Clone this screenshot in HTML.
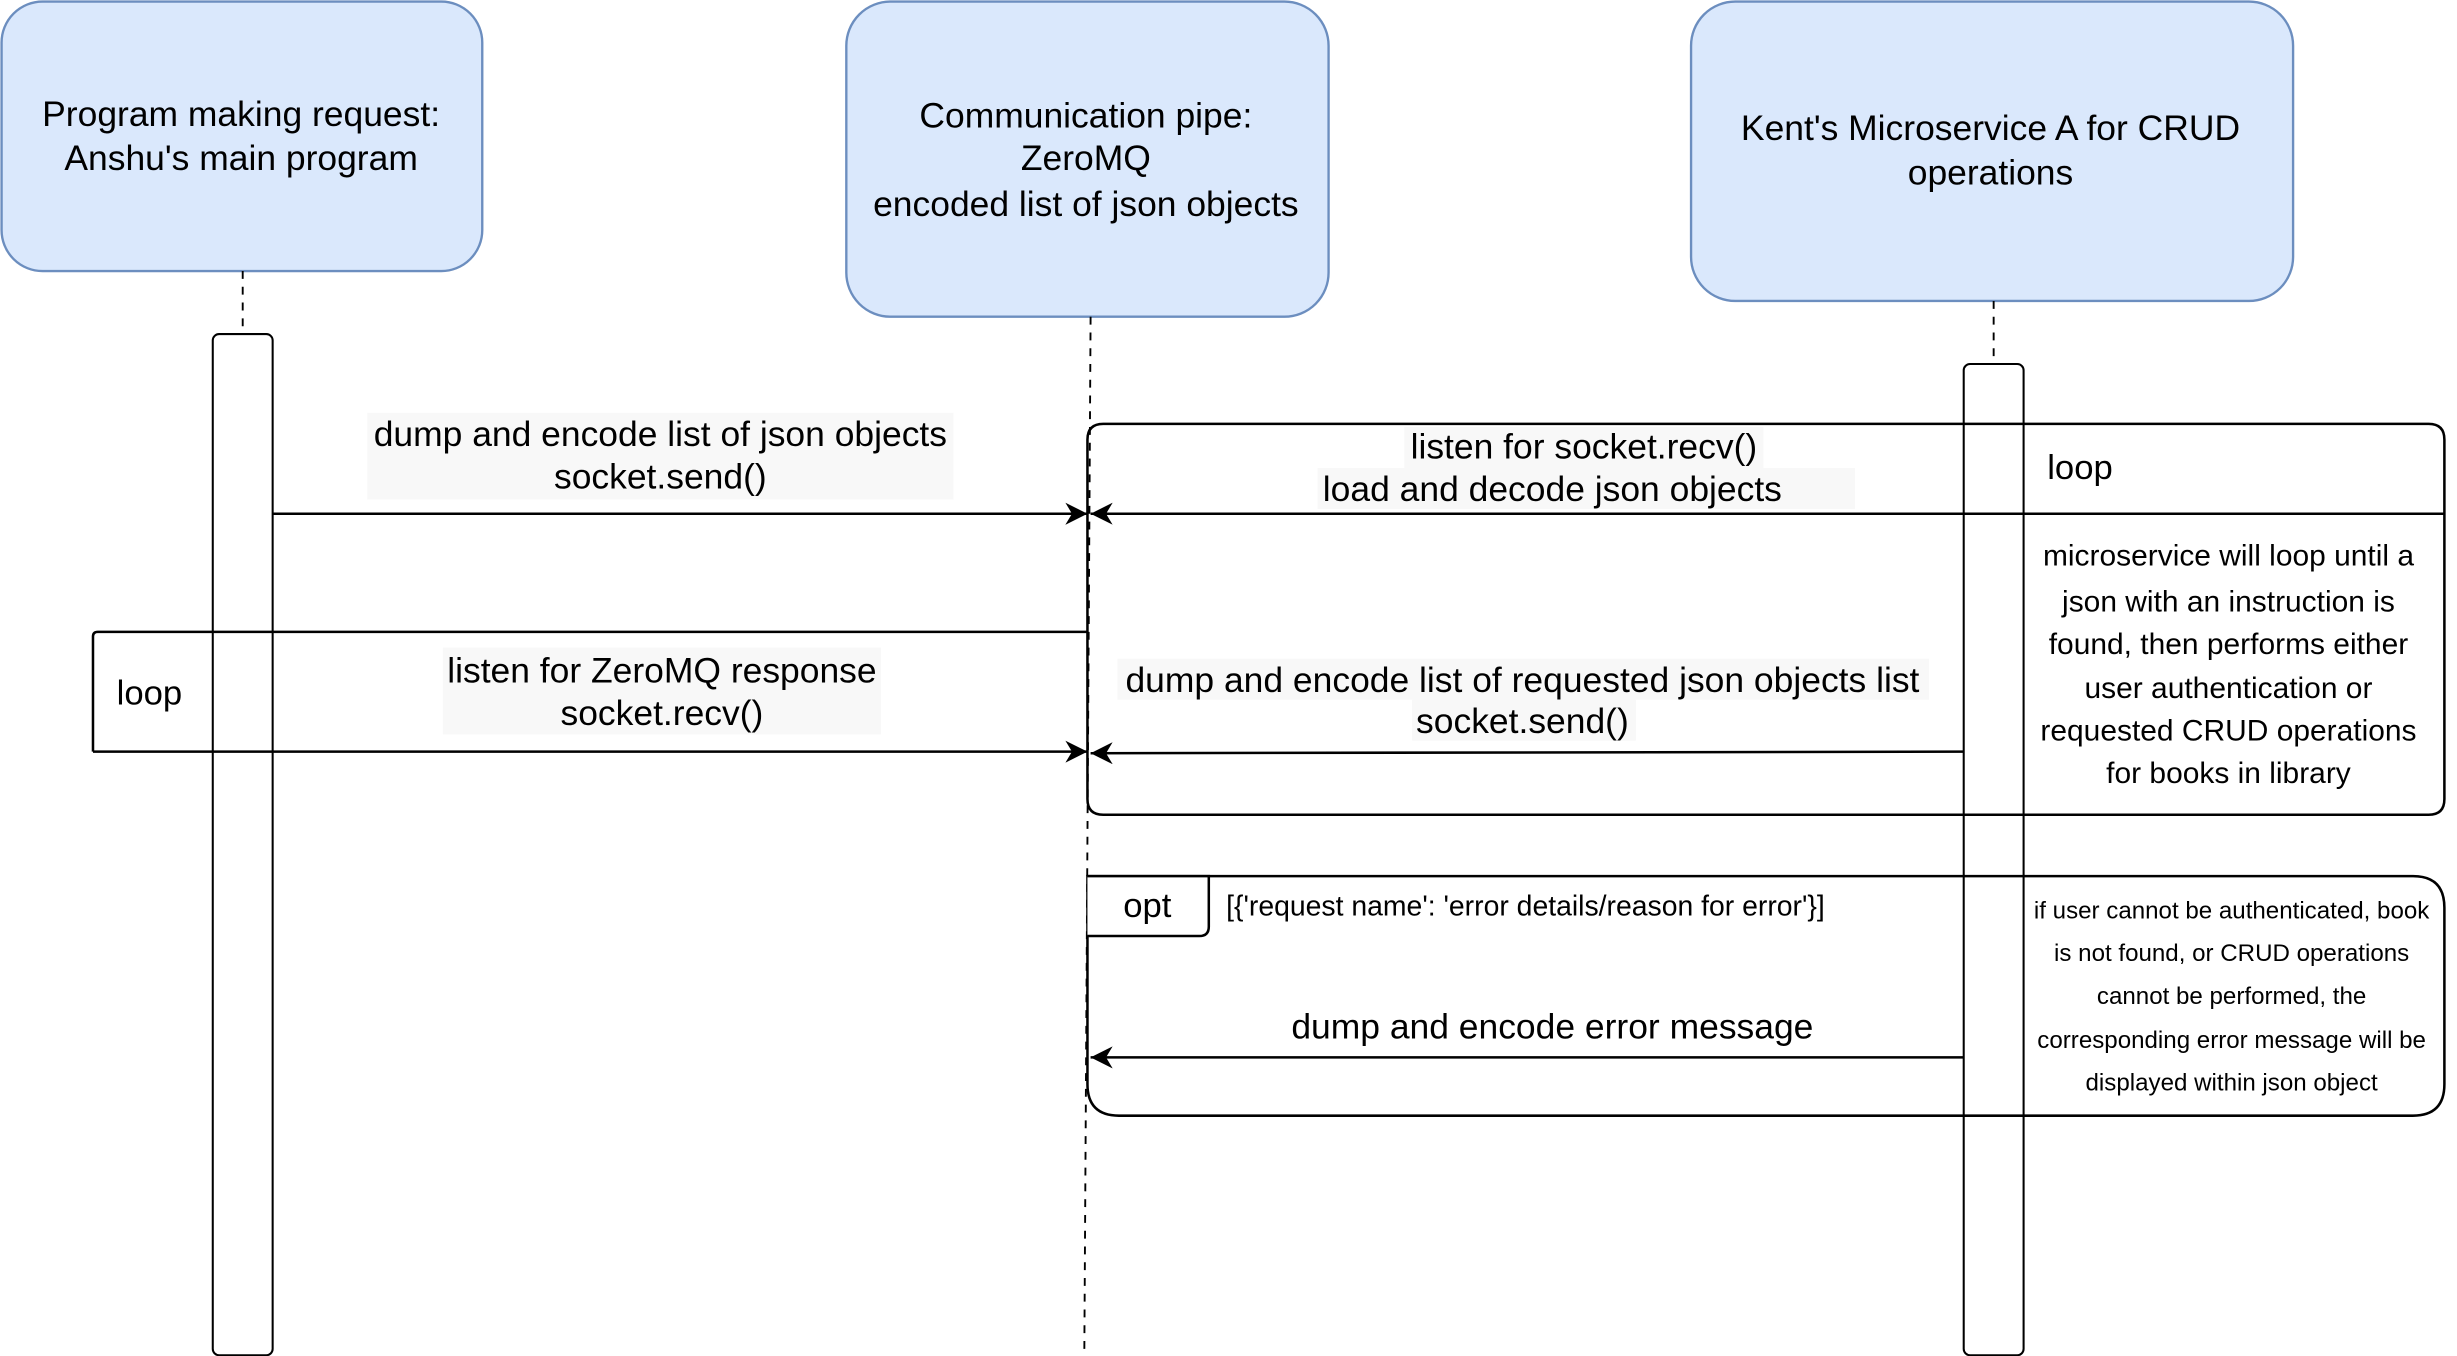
<!DOCTYPE html>
<html><head><meta charset="utf-8"><style>
html,body{margin:0;padding:0;background:#fff;}
svg{display:block;}
text{font-family:"Liberation Sans",Arial,sans-serif;fill:#000;}
</style></head><body>
<svg width="2457" height="1356" viewBox="0 0 1559 860.5" preserveAspectRatio="none" xmlns="http://www.w3.org/2000/svg">
<defs>
<marker id="ahb" viewBox="0 0 10 10" refX="10" refY="5" markerWidth="14" markerHeight="14" markerUnits="userSpaceOnUse" orient="auto">
<path d="M0,0 L10,5 L0,10 L3,5 Z" fill="#000"/>
</marker>
</defs>
<rect x="1" y="1" width="305" height="171" rx="26" fill="#dae8fc" stroke="#6c8ebf" stroke-width="1.5"/>
<rect x="537" y="1" width="306" height="200" rx="28" fill="#dae8fc" stroke="#6c8ebf" stroke-width="1.5"/>
<rect x="1073" y="1" width="382" height="190" rx="28" fill="#dae8fc" stroke="#6c8ebf" stroke-width="1.5"/>
<g font-size="22.5" text-anchor="middle">
<text x="153" y="80">Program making request:</text>
<text x="153" y="108">Anshu's main program</text>
<text x="689" y="81">Communication pipe:</text>
<text x="689" y="108">ZeroMQ</text>
<text x="689" y="137">encoded list of json objects</text>
<text x="1263" y="89">Kent's Microservice A for CRUD</text>
<text x="1263" y="117">operations</text>
</g>
<g stroke="#000" stroke-width="1.2" stroke-dasharray="5,5" fill="none">
<line x1="154" y1="172" x2="154" y2="212"/>
<line x1="692" y1="201" x2="688" y2="861"/>
<line x1="1265" y1="191" x2="1265" y2="231"/>
</g>
<rect x="135" y="212" width="38" height="648" rx="4" fill="#fff" stroke="#000" stroke-width="1.3"/>
<rect x="1246" y="231" width="38" height="629" rx="4" fill="#fff" stroke="#000" stroke-width="1.3"/>
<path d="M700,269 H1541 Q1551,269 1551,279 V507 Q1551,517 1541,517 H700 Q690,517 690,507 V279 Q690,269 700,269 Z" fill="none" stroke="#000" stroke-width="1.6"/>
<line x1="1284" y1="326" x2="1551" y2="326" stroke="#000" stroke-width="1.6"/>
<text x="1299" y="304" font-size="22">loop</text>
<g font-size="19" text-anchor="middle">
<text x="1414" y="359">microservice will loop until a</text>
<text x="1414" y="388">json with an instruction is</text>
<text x="1414" y="415">found, then performs either</text>
<text x="1414" y="443">user authentication or</text>
<text x="1414" y="470">requested CRUD operations</text>
<text x="1414" y="497">for books in library</text>
</g>
<path d="M700,556 H1531 Q1551,556 1551,576 V688 Q1551,708 1531,708 H710 Q690,708 690,688 V556 Z" fill="none" stroke="#000" stroke-width="1.6"/>
<path d="M690,556 H767 V588 Q767,594 761,594 H690" fill="#fff" stroke="#000" stroke-width="1.6"/>
<text x="728" y="582" font-size="22" text-anchor="middle">opt</text>
<text x="778" y="581" font-size="18">[{'request name': 'error details/reason for error'}]</text>
<g font-size="15.3" text-anchor="middle">
<text x="1416" y="583">if user cannot be authenticated, book</text>
<text x="1416" y="610">is not found, or CRUD operations</text>
<text x="1416" y="637">cannot be performed, the</text>
<text x="1416" y="665">corresponding error message will be</text>
<text x="1416" y="692">displayed within json object</text>
</g>
<path d="M690,401 H62 Q59,401 59,404 V477" fill="none" stroke="#000" stroke-width="1.6"/>
<text x="74" y="447" font-size="22">loop</text>
<g fill="#f8f8f8">
<rect x="233" y="262" width="372" height="55"/>
<rect x="891" y="271" width="228" height="26"/>
<rect x="836" y="297" width="341" height="26"/>
<rect x="281" y="411" width="278" height="55"/>
<rect x="709" y="418" width="515" height="26"/>
<rect x="896" y="444" width="142" height="26"/>
</g>
<g font-size="22.5" text-anchor="middle">
<text x="419" y="283">dump and encode list of json objects</text>
<text x="419" y="310">socket.send()</text>
<text x="1005" y="291">listen for socket.recv()</text>
<text x="985" y="318">load and decode json objects</text>
<text x="420" y="433">listen for ZeroMQ response</text>
<text x="420" y="460">socket.recv()</text>
<text x="966" y="439">dump and encode list of requested json objects list</text>
<text x="966" y="465">socket.send()</text>
<text x="985" y="659">dump and encode error message</text>
</g>
<g stroke="#000" stroke-width="1.6" fill="none">
<line x1="173" y1="326" x2="690" y2="326" marker-end="url(#ahb)"/>
<line x1="1284" y1="326" x2="692" y2="326" marker-end="url(#ahb)"/>
<line x1="59" y1="477" x2="690" y2="477" marker-end="url(#ahb)"/>
<line x1="1246" y1="477" x2="692" y2="478" marker-end="url(#ahb)"/>
<line x1="1246" y1="671" x2="692" y2="671" marker-end="url(#ahb)"/>
</g>
</svg>
</body></html>
